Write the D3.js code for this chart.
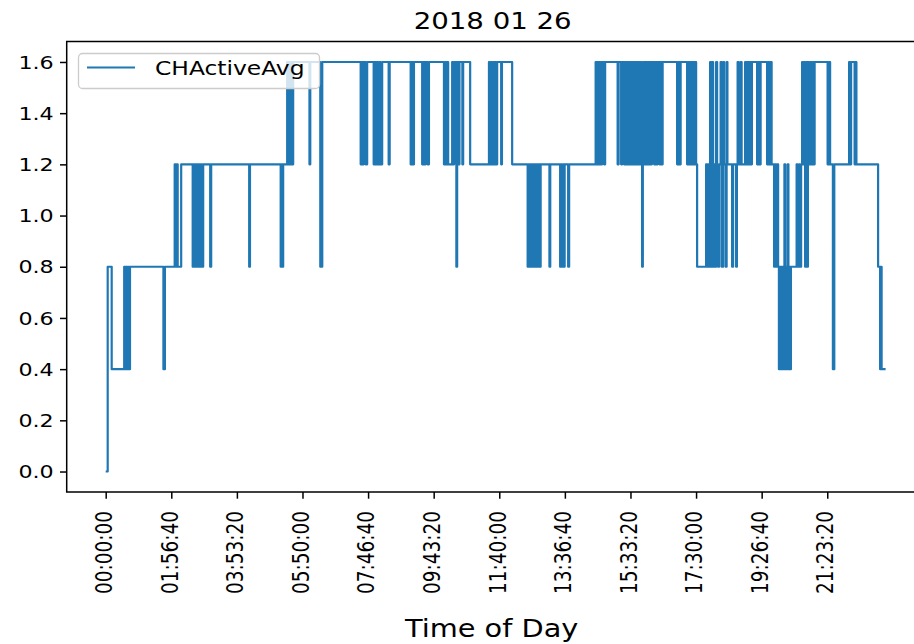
<!DOCTYPE html>
<html>
<head>
<meta charset="utf-8">
<script src="https://cdn.jsdelivr.net/npm/d3@7"></script>
<style>
  body { margin: 0; background: #fff; }
  text { font-family: "DejaVu Sans", sans-serif; fill: #000; }
</style>
</head>
<body>
<svg id="container"></svg>
<script>
const chartTitle = "2018 01 26"
const xAxisLabel = "Time of Day"
const seriesName = "CHActiveAvg"

// x ticks every 7000 s
const xTickValues = [0, 7000, 14000, 21000, 28000, 35000, 42000, 49000, 56000, 63000, 70000, 77000]
const xTickLabels = ["00:00:00", "01:56:40", "03:53:20", "05:50:00", "07:46:40", "09:43:20",
                     "11:40:00", "13:36:40", "15:33:20", "17:30:00", "19:26:40", "21:23:20"]
const yTickValues = [0, 0.2, 0.4, 0.6, 0.8, 1.0, 1.2, 1.4, 1.6]

// seconds since midnight where the value changes
const times = [
  0, 213, 640, 1974, 2081, 2187, 2294, 2401, 2486, 2593, 6160, 6320,
  7362, 7469, 7576, 7682, 8056, 9283, 9390, 9496, 9603, 9763, 9870, 10030,
  10137, 10297, 10403, 11150, 11257, 15311, 15397, 18673, 18779, 18854, 18939, 19366,
  19473, 19579, 19686, 19793, 19899, 20006, 21745, 21831, 22900, 23110, 27209, 27315,
  27422, 27529, 27742, 27902, 28596, 28702, 28809, 28916, 29076, 29182, 29343, 29503,
  30196, 30303, 32544, 32650, 32810, 32896, 33771, 33878, 34038, 34144, 34357, 34496,
  36097, 36203, 36331, 36438, 36545, 36972, 37078, 37185, 37420, 37505, 37665, 37751,
  38060, 38146, 38893, 40899, 41006, 41113, 41219, 41326, 41454, 41561, 41667, 41774,
  42201, 42286, 43374, 45027, 45134, 45241, 45348, 45454, 45561, 45668, 45774, 45881,
  45988, 46148, 46254, 46329, 46414, 47353, 47439, 48495, 48581, 48709, 48815, 48901,
  48975, 49349, 49455, 52283, 52390, 52496, 52603, 52710, 52870, 52976, 53190, 53297,
  54630, 54737, 55004, 55111, 55324, 55431, 55537, 55644, 55751, 55857, 55964, 56071,
  56177, 56284, 56391, 56497, 56604, 56711, 56817, 56924, 57031, 57137, 57244, 57319,
  57405, 57511, 57618, 57778, 57885, 57991, 58077, 58205, 58290, 58525, 58632, 58792,
  58899, 59112, 59219, 59325, 59432, 60979, 61086, 61246, 61353, 62046, 62153, 62260,
  62366, 62526, 62633, 62793, 62900, 63006, 63113, 64073, 64180, 64287, 64393, 64500,
  64607, 64713, 64820, 64927, 65033, 65140, 65247, 65353, 65460, 65620, 65727, 65887,
  65994, 66154, 66260, 66346, 66848, 66954, 67274, 67360, 67434, 67541, 67755, 67861,
  68235, 68341, 68448, 68608, 68715, 68875, 68960, 69515, 69621, 69782, 69888, 70582,
  70688, 70795, 70902, 71062, 71329, 71436, 71542, 71649, 71756, 71841, 71916, 72001,
  72086, 72172, 72257, 72343, 72428, 72513, 72599, 72684, 72770, 72855, 72940, 73036,
  73122, 73730, 73837, 73997, 74104, 74211, 74317, 74424, 74531, 74637, 74744, 74851,
  74936, 75043, 75150, 75278, 75384, 75544, 75651, 77037, 77144, 77304, 77600, 77750,
  79331, 79438, 79545, 79918, 80025, 80110, 82426, 82640, 82725, 82800, 83226
]
const values = [
  0.0, 0.8, 0.4, 0.8, 0.4, 0.8, 0.4, 0.8, 0.4, 0.8, 0.4, 0.8,
  1.2, 0.8, 1.2, 0.8, 1.2, 0.8, 1.2, 0.8, 1.2, 0.8, 1.2, 0.8,
  1.2, 0.8, 1.2, 0.8, 1.2, 0.8, 1.2, 0.8, 1.2, 0.8, 1.2, 1.6,
  1.2, 1.6, 1.2, 1.6, 1.2, 1.6, 1.2, 1.6, 0.8, 1.6, 1.2, 1.6,
  1.2, 1.6, 1.2, 1.6, 1.2, 1.6, 1.2, 1.6, 1.2, 1.6, 1.2, 1.6,
  1.2, 1.6, 1.2, 1.6, 1.2, 1.6, 1.2, 1.6, 1.2, 1.6, 1.2, 1.6,
  1.2, 1.6, 1.2, 1.6, 1.2, 1.6, 1.2, 1.6, 0.8, 1.6, 1.2, 1.6,
  1.2, 1.6, 1.2, 1.6, 1.2, 1.6, 1.2, 1.6, 1.2, 1.6, 1.2, 1.6,
  1.2, 1.6, 1.2, 0.8, 1.2, 0.8, 1.2, 0.8, 1.2, 0.8, 1.2, 0.8,
  1.2, 0.8, 1.2, 0.8, 1.2, 0.8, 1.2, 0.8, 1.2, 0.8, 1.2, 0.8,
  1.2, 0.8, 1.2, 1.6, 1.2, 1.6, 1.2, 1.6, 1.2, 1.6, 1.2, 1.6,
  1.2, 1.6, 1.2, 1.6, 1.2, 1.6, 1.2, 1.6, 1.2, 1.6, 1.2, 1.6,
  1.2, 1.6, 1.2, 1.6, 1.2, 1.6, 1.2, 1.6, 1.2, 1.6, 0.8, 1.2,
  1.6, 1.2, 1.6, 1.2, 1.6, 1.2, 1.6, 1.2, 1.6, 1.2, 1.6, 1.2,
  1.6, 1.2, 1.6, 1.2, 1.6, 1.2, 1.6, 1.2, 1.6, 1.2, 1.6, 1.2,
  1.6, 1.2, 1.6, 1.2, 1.6, 1.2, 0.8, 1.2, 0.8, 1.2, 0.8, 1.6,
  0.8, 1.6, 0.8, 1.2, 0.8, 1.6, 1.2, 0.8, 1.2, 1.6, 0.8, 1.6,
  1.2, 0.8, 1.6, 1.2, 0.8, 1.2, 0.8, 1.2, 1.6, 1.2, 1.6, 1.2,
  1.6, 1.2, 1.6, 1.2, 1.6, 1.2, 1.6, 1.2, 1.6, 1.2, 1.6, 1.2,
  1.6, 1.2, 1.6, 1.2, 0.8, 1.2, 0.8, 1.2, 0.8, 0.4, 0.8, 0.4,
  0.8, 0.4, 0.8, 0.4, 1.2, 0.4, 0.8, 0.4, 1.2, 0.4, 0.8, 0.4,
  0.8, 1.2, 0.8, 1.2, 0.8, 1.2, 1.6, 1.2, 1.6, 0.8, 1.6, 0.8,
  1.6, 1.2, 1.6, 1.2, 1.6, 1.2, 1.6, 1.2, 1.6, 1.2, 0.4, 1.2,
  1.6, 1.2, 1.6, 1.2, 1.6, 1.2, 0.8, 0.4, 0.8, 0.4, 0.4
]

const width = 914
const height = 644
const plot = { left: 66.7, right: 924.6, top: 41.5, bottom: 492 }
const textStretch = 1.2   // the picture's text is a bit wider than it is tall

const addText = (parent, x, y, str, size, anchor, rotate) => {
	return parent.append("text")
	   .attr("transform", `translate(${x},${y}) scale(${textStretch},1)` + (rotate ? " rotate(-90)" : ""))
	   .attr("text-anchor", anchor)
	   .style("font-size", size + "px")
	   .text(str)
}

const setup = () => {
	const svg = d3.select("#container")
	svg.attr("width", width).attr("height", height)

	const data = times.map((t, i) => [t, values[i]])
	const tMin = d3.min(times)
	const tMax = d3.max(times)
	const pad = (tMax - tMin) * 0.05

	const x = d3.scaleLinear()
	            .domain([tMin - pad, tMax + pad])
	            .range([plot.left, plot.right])
	const y = d3.scaleLinear()
	            .domain([-0.08, 1.68])
	            .range([plot.bottom, plot.top])

	svg.append("defs").append("clipPath").attr("id", "clip")
	   .append("rect")
	   .attr("x", plot.left).attr("y", plot.top)
	   .attr("width", plot.right - plot.left).attr("height", plot.bottom - plot.top)

	// series
	const lineGenerator = d3.line()
	                        .x(d => x(d[0]))
	                        .y(d => y(d[1]))
	                        .curve(d3.curveStepAfter)
	svg.append("path")
	   .attr("clip-path", "url(#clip)")
	   .attr("d", lineGenerator(data))
	   .attr("fill", "none")
	   .attr("stroke", "#1f77b4")
	   .attr("stroke-width", 2.2)
	   .attr("stroke-linejoin", "round")

	// axes
	const xAxis = svg.append("g").attr("transform", `translate(0,${plot.bottom})`)
	xAxis.call(d3.axisBottom(x).tickValues(xTickValues).tickSize(6.7).tickFormat(""))
	const yAxis = svg.append("g").attr("transform", `translate(${plot.left},0)`)
	yAxis.call(d3.axisLeft(y).tickValues(yTickValues).tickSize(6.7).tickFormat(""))
	svg.selectAll(".domain").remove()
	svg.selectAll(".tick line").attr("stroke", "#000").attr("stroke-width", 1.5)

	xTickValues.forEach((v, i) => {
		addText(svg, x(v), plot.bottom + 19, xTickLabels[i], 18.5, "end", true)
		   .attr("dy", "0.28em")
	})
	yTickValues.forEach(v => {
		addText(svg, plot.left - 13, y(v), d3.format(".1f")(v), 18.5, "end", false)
		   .attr("dy", "0.36em")
	})

	// frame
	svg.append("rect")
	   .attr("x", plot.left).attr("y", plot.top)
	   .attr("width", plot.right - plot.left).attr("height", plot.bottom - plot.top)
	   .attr("fill", "none").attr("stroke", "#000").attr("stroke-width", 1.5)

	addText(svg, (plot.left + plot.right) / 2 - 3, 29, chartTitle, 23, "middle", false)
	addText(svg, (plot.left + plot.right) / 2 - 4, 636.5, xAxisLabel, 24, "middle", false)

	// legend
	const legend = svg.append("g")
	legend.append("rect")
	      .attr("x", 78.5).attr("y", 53.5).attr("width", 241).attr("height", 35)
	      .attr("rx", 4)
	      .attr("fill", "#fff").attr("fill-opacity", 0.8)
	      .attr("stroke", "#ccc").attr("stroke-width", 1.3)
	legend.append("line")
	      .attr("x1", 87).attr("x2", 135).attr("y1", 67.5).attr("y2", 67.5)
	      .attr("stroke", "#1f77b4").attr("stroke-width", 2.2)
	addText(legend, 155, 75, seriesName, 19.5, "start", false)
}

document.addEventListener("DOMContentLoaded", setup)
</script>
</body>
</html>
